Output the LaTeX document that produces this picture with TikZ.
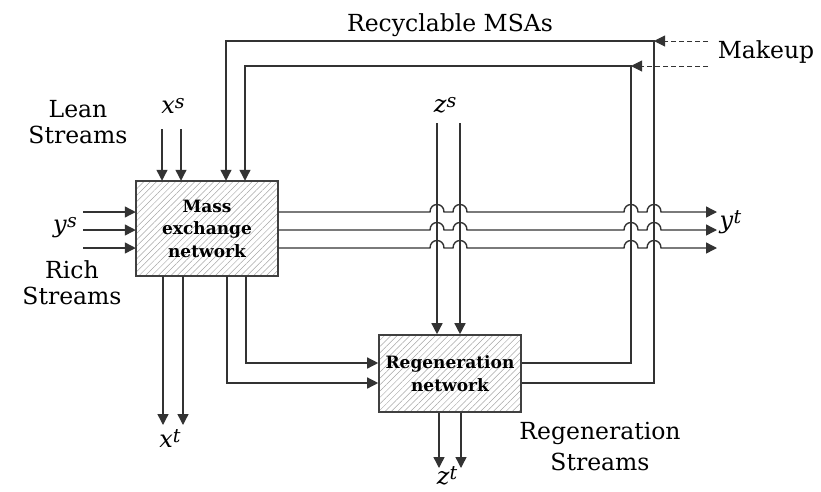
\documentclass[tikz,border=0pt]{standalone}
\usepackage{fontspec}
\setmainfont{DejaVu Serif}
\usepackage{tikz}
\usetikzlibrary{arrows.meta,patterns.meta}

% line hop over a vertical stream at x=#1, height #2
\newcommand{\hop}[2]{-- ({#1-7},#2) .. controls ({#1-7},{#2-10}) and ({#1+7},{#2-10}) .. ({#1+7},#2)}
% stream symbol with its superscript
\newcommand{\sv}[2]{\textit{#1}\raisebox{5pt}{\fontsize{19}{19}\selectfont\textit{#2}}}

\begin{document}
\begin{tikzpicture}[x=1pt,y=-1pt,>={Triangle[length=11pt,width=11pt]},
                    line width=1.4pt]
  \tikzstyle{unit}=[draw=black!75,line width=1.6pt,minimum width=142pt,
                    pattern={Lines[angle=45,distance=4.5pt,line width=0.5pt]},
                    pattern color=black!35,align=center,inner sep=0pt,
                    font=\bfseries\fontsize{17}{22.5}\selectfont]
  \tikzstyle{lbl}=[align=center,inner sep=0pt,font=\fontsize{23.5}{26}\selectfont]
  \tikzstyle{sym}=[inner sep=0pt,font=\fontsize{24}{24}\selectfont]
  \tikzstyle{flow}=[->,draw=black!80]

  \useasboundingbox (0,0) rectangle (821,491);

  \node[unit,minimum height=95pt] (mass)  at (207,228.5) {Mass\\exchange\\network};
  \node[unit,minimum height=77pt] (regen) at (450,373.5) {Regeneration\\network};

  \node[lbl,anchor=base] (recyc)  at (450,31) {Recyclable MSAs};
  \node[lbl,anchor=base] (makeup) at (766,58) {Makeup};
  \node[lbl] (lean)   at (78,122)  {Lean\\Streams};
  \node[lbl] (rich)   at (72,283)  {Rich\\Streams};
  \node[lbl,font=\fontsize{23.5}{31}\selectfont] (regstr) at (600,447) {Regeneration\\Streams};

  \node[sym,anchor=base]      (xs) at (173,113) {\sv{x}{s}};
  \node[sym,anchor=base]      (ys) at (65,232)  {\sv{y}{s}};
  \node[sym,anchor=base]      (zs) at (445,112) {\sv{z}{s}};
  \node[sym,anchor=base west] (yt) at (719,228) {\sv{y}{t}};
  \node[sym,anchor=base]      (xt) at (170,447) {\sv{x}{t}};
  \node[sym,anchor=base]      (zt) at (447,484) {\sv{z}{t}};

  \coordinate (xs1) at (162,129);
  \coordinate (xs2) at (181,129);
  \coordinate (zs1) at (437,123);
  \coordinate (zs2) at (460,123);
  \coordinate (xt1) at (163,425);
  \coordinate (xt2) at (183,425);
  \coordinate (zt1) at (439,468);
  \coordinate (zt2) at (461,468);
  \coordinate (c1)  at (654,41);
  \coordinate (c2)  at (631,66);
  \coordinate (mk1) at (708,41);
  \coordinate (mk2) at (708,66);

  % lean and rich streams
  \draw[flow] (xs1) -- (xs1 |- mass.north);
  \draw[flow] (xs2) -- (xs2 |- mass.north);
  \foreach \y in {212,230,248}{
    \coordinate (in\y)  at (83,\y);
    \coordinate (out\y) at (717,\y);
    \draw[flow] (in\y) -- (mass.west |- in\y);
    \draw[flow] (mass.east |- out\y) \hop{437}{\y} \hop{460}{\y}
                \hop{631}{\y} \hop{654}{\y} -- (out\y);
  }
  \draw[flow] ([xshift=-44pt]mass.south) -- (xt1);
  \draw[flow] ([xshift=-24pt]mass.south) -- (xt2);

  % to regeneration
  \draw[flow] ([xshift=39pt]mass.south) |- (regen.west |- 0,363);
  \draw[flow] ([xshift=20pt]mass.south) |- (regen.west |- 0,383);
  \draw[flow] (zs1) -- (zs1 |- regen.north);
  \draw[flow] (zs2) -- (zs2 |- regen.north);
  \draw[flow] (regen.south -| zt1) -- (zt1);
  \draw[flow] (regen.south -| zt2) -- (zt2);

  % recycle loops and makeup
  \draw[flow] (regen.east |- 0,363) -| (c2) -| ([xshift=38pt]mass.north);
  \draw[flow] (regen.east |- 0,383) -| (c1) -| ([xshift=19pt]mass.north);
  \draw[flow,dash pattern=on 5pt off 3pt,line width=1pt] (mk1) -- (c1);
  \draw[flow,dash pattern=on 5pt off 3pt,line width=1pt] (mk2) -- (c2);
\end{tikzpicture}
\end{document}
